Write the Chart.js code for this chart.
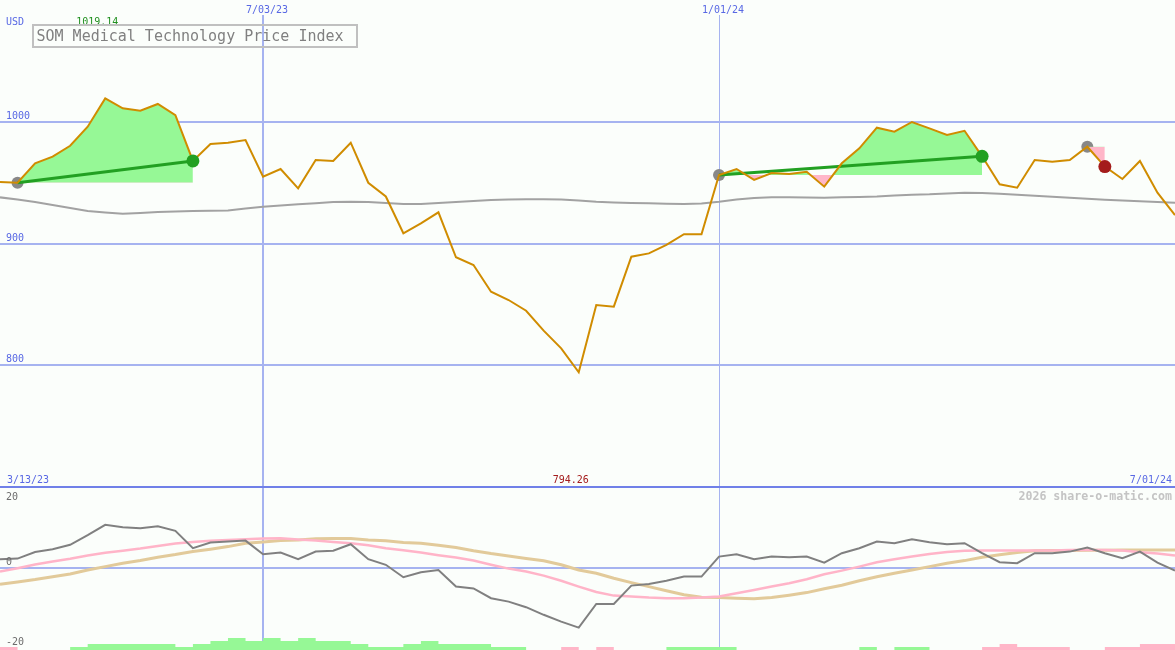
<!DOCTYPE html>
<html>
<head>
<meta charset="utf-8">
<title>SOM Medical Technology Price Index</title>
<script src="https://cdn.jsdelivr.net/npm/chart.js@4.4.1/dist/chart.umd.min.js"></script>
<style>
  html, body { margin: 0; padding: 0; background: #fbfefb; }
  #wrap { position: relative; width: 1175px; height: 650px; overflow: hidden; }
  #priceChart { position: absolute; left: 0; top: 0; }
  #oscChart { position: absolute; left: 0; top: 488px; }
</style>
</head>
<body>
<div id="wrap">
  <canvas id="priceChart" width="1175" height="488"></canvas>
  <canvas id="oscChart" width="1175" height="162"></canvas>
</div>
<script>
// weekly closes, week 0 = 3/20/23 ... week 67 = 7/01/24
const price = [
  950.5, 949.9, 965.9, 971.3, 980.3, 995.9, 1019.14, 1011.0, 1009.1, 1014.6,
  1005.5, 967.8, 981.7, 982.8, 985.0, 954.9, 961.2, 945.3, 968.6, 967.8,
  982.8, 949.9, 938.6, 908.4, 916.6, 925.6, 888.7, 882.3, 860.4, 853.6,
  844.8, 828.4, 813.9, 794.26, 849.5, 848.1, 889.2, 891.9, 898.8, 907.6,
  907.6, 956.3, 961.2, 952.2, 957.9, 957.1, 959.0, 946.7, 965.9, 978.2,
  995.1, 991.8, 999.8, 994.6, 989.1, 992.6, 971.6, 948.6, 945.8, 968.6,
  967.2, 968.6, 979.5, 963.2, 953.0, 967.8, 941.7, 923.4
];

// long moving average (grey)
const priceMA = [
  937.9, 936.1, 934.1, 931.6, 929.2, 926.7, 925.5, 924.5, 925.1, 925.9,
  926.3, 926.7, 926.9, 927.1, 928.7, 930.2, 931.2, 932.2, 933.0, 934.1,
  934.3, 934.1, 933.3, 932.4, 932.4, 933.3, 934.1, 934.9, 935.7, 936.1,
  936.3, 936.3, 936.1, 935.3, 934.3, 933.7, 933.3, 933.0, 932.7, 932.4,
  932.9, 934.3, 936.1, 937.4, 937.9, 937.9, 937.8, 937.6, 937.9, 938.3,
  938.6, 939.4, 940.1, 940.4, 941.1, 941.7, 941.5, 940.9, 940.1, 939.3,
  938.4, 937.6, 936.7, 936.0, 935.3, 934.7, 934.1, 933.5
];

// oscillator panel
const macd = [
  2.1, 2.25, 3.9, 4.6, 5.7, 8.1, 10.7, 10.1, 9.85, 10.35,
  9.2, 4.85, 6.25, 6.5, 6.75, 3.35, 3.75, 2.1, 4.0, 4.2,
  5.85, 2.1, 0.7, -2.4, -1.15, -0.6, -4.75, -5.2, -7.65, -8.5,
  -9.9, -11.8, -13.5, -15.0, -9.1, -9.1, -4.5, -4.1, -3.3, -2.25,
  -2.25, 2.75, 3.35, 2.1, 2.75, 2.6, 2.75, 1.25, 3.6, 4.85,
  6.5, 6.1, 7.1, 6.35, 5.85, 6.1, 3.6, 1.35, 1.1, 3.6,
  3.6, 4.0, 5.0, 3.6, 2.35, 4.0, 1.25, -0.75
];

const fastAvg = [
  -1.0, -0.15, 0.75, 1.5, 2.2, 3.0, 3.7, 4.2, 4.75, 5.4,
  6.0, 6.4, 6.7, 6.9, 7.1, 7.25, 7.35, 7.0, 6.75, 6.4,
  6.1, 5.6, 4.85, 4.35, 3.75, 3.1, 2.5, 1.75, 0.7, -0.25,
  -1.0, -2.0, -3.3, -4.75, -6.1, -7.0, -7.25, -7.5, -7.65, -7.65,
  -7.5, -7.25, -6.4, -5.6, -4.75, -3.9, -2.9, -1.65, -0.75, 0.25,
  1.35, 2.1, 2.75, 3.4, 3.9, 4.2, 4.25, 4.25, 4.25, 4.25,
  4.25, 4.4, 4.4, 4.4, 4.25, 3.85, 3.5, 3.0
];

const slowAvg = [
  -4.15, -3.6, -3.0, -2.3, -1.6, -0.6, 0.25, 1.1, 1.8, 2.6,
  3.25, 4.0, 4.6, 5.25, 6.1, 6.4, 6.75, 6.9, 7.2, 7.25,
  7.25, 6.9, 6.7, 6.3, 6.1, 5.6, 5.0, 4.2, 3.5, 2.9,
  2.3, 1.7, 0.7, -0.6, -1.4, -2.65, -3.75, -4.75, -5.8, -6.8,
  -7.4, -7.5, -7.65, -7.8, -7.5, -6.9, -6.25, -5.3, -4.4, -3.3,
  -2.3, -1.4, -0.6, 0.25, 1.1, 1.75, 2.6, 3.2, 3.75, 4.2,
  4.25, 4.25, 4.35, 4.35, 4.4, 4.4, 4.4, 4.4
];

// histogram strip along the bottom (signed, small units)
const histogram = [
  -1, 0, 0, 0, 1, 2, 2, 2, 2, 2,
  1, 2, 3, 4, 3, 4, 3, 4, 3, 3,
  2, 1, 1, 2, 3, 2, 2, 2, 1, 1,
  0, 0, -1, 0, -1, 0, 0, 0, 1, 1,
  1, 1, 0, 0, 0, 0, 0, 0, 0, 1,
  0, 1, 1, 0, 0, 0, -1, -2, -1, -1,
  -1, 0, 0, -1, -1, -2, -2, -2
];

const gridWeeks = [15, 41];
const gridDates = ['7/03/23', '1/01/24'];
const firstDate = '3/13/23';
const lastDate = '7/01/24';
const priceTicks = [700, 800, 900, 1000];
const oscTicks = [20, 0, -20];

// trades: entry week, exit week, result
const entryWeeks = [1, 41, 62];
const exitWeeks = [11, 56, 63];
const tradeWon = [true, true, false];

const BG = '#fbfefb';
const GRID = '#a6b3f0';
const AXIS = '#7080e8';
const LABEL = '#5868e4';
const GREEN = '#22a022';
const RED = '#a41c1c';
const FILL_UP = '#96f896';
const FILL_DOWN = '#ffb6c8';
const MONO = '"DejaVu Sans Mono", "Liberation Mono", monospace';

const toPoints = (arr) => arr.map((y, i) => ({ x: i, y }));

const trades = entryWeeks.map((start, i) => ({
  start,
  end: exitWeeks[i],
  won: tradeWon[i]
}));

/**
 * Shared week axis, only the two date grid lines.
 * @returns {Object}
 */
function weekAxis() {
  return {
    type: 'linear',
    min: 0,
    max: price.length - 1,
    afterBuildTicks: (scale) => { scale.ticks = gridWeeks.map(v => ({ value: v })); },
    afterFit: (scale) => { scale.height = 0; },
    grid: {
      color: GRID,
      lineWidth: (ctx) => (ctx.tick && ctx.tick.value === gridWeeks[0] ? 2 : 1),
      drawTicks: false
    },
    border: { display: false },
    ticks: { display: false }
  };
}

const background = {
  id: 'background',
  beforeDraw(chart) {
    const { ctx, width, height } = chart;
    ctx.save();
    ctx.fillStyle = BG;
    ctx.fillRect(0, 0, width, height);
    ctx.restore();
  }
};

const priceText = {
  id: 'priceText',
  afterDraw(chart) {
    const { ctx, scales: { x } } = chart;
    const h = chart.height;
    ctx.save();
    ctx.font = '10px ' + MONO;
    ctx.textBaseline = 'alphabetic';

    // dates above the vertical grid lines
    ctx.textAlign = 'center';
    gridWeeks.forEach((w, i) => {
      const px = x.getPixelForValue(w) + 4;
      const tw = ctx.measureText(gridDates[i]).width;
      ctx.fillStyle = BG;
      ctx.fillRect(px - tw / 2 - 2, 0, tw + 4, 15);
      ctx.fillStyle = LABEL;
      ctx.fillText(gridDates[i], px, 13);
    });

    ctx.textAlign = 'left';
    ctx.fillStyle = LABEL;
    ctx.fillText('USD', 6, 24.5);
    ctx.fillText(firstDate, 7, h - 5);
    ctx.textAlign = 'right';
    ctx.fillText(lastDate, chart.width - 3, h - 5);

    // high / low of the period
    const hi = Math.max(...price);
    const lo = Math.min(...price);
    ctx.textAlign = 'center';
    ctx.fillStyle = '#20901f';
    ctx.fillText(hi.toFixed(2), x.getPixelForValue(price.indexOf(hi)) - 8, 24.5);
    ctx.fillStyle = RED;
    ctx.fillText(lo.toFixed(2), x.getPixelForValue(price.indexOf(lo)) - 8, h - 5);

    // boxed title
    ctx.strokeStyle = '#c0c0c0';
    ctx.lineWidth = 2;
    ctx.strokeRect(33, 25, 324, 22);
    ctx.font = '15px ' + MONO;
    ctx.textAlign = 'left';
    ctx.fillStyle = '#808080';
    ctx.fillText('SOM Medical Technology Price Index', 36.5, 41);
    ctx.restore();
  }
};

const oscText = {
  id: 'oscText',
  afterDraw(chart) {
    const { ctx, scales: { y } } = chart;
    ctx.save();
    ctx.font = '10px ' + MONO;
    ctx.textBaseline = 'alphabetic';
    ctx.textAlign = 'left';
    ctx.fillStyle = '#6c6c6c';
    oscTicks.forEach(v => {
      const py = y.getPixelForValue(v);
      ctx.fillText(String(v), 6, v > 0 ? py + 12 : py - 2.5);
    });
    ctx.font = 'bold 11.6px ' + MONO;
    ctx.textAlign = 'right';
    ctx.fillStyle = '#c4c4c4';
    ctx.fillText('2026 share-o-matic.com', chart.width - 3, 12);
    ctx.restore();
  }
};

/**
 * Price panel with trades.
 * @param {HTMLCanvasElement} canvas
 * @returns {Chart}
 */
function renderPriceChart(canvas) {
  const datasets = [
    {
      // exit markers
      data: trades.map(t => ({ x: t.end, y: price[t.end] })),
      showLine: false,
      pointRadius: 6.5,
      pointBorderWidth: 0,
      pointBackgroundColor: trades.map(t => (t.won ? GREEN : RED)),
      order: 0
    },
    {
      data: toPoints(price),
      borderColor: '#d08c00',
      borderWidth: 2,
      pointRadius: 0,
      order: 1
    },
    ...trades.filter(t => t.won).map(t => ({
      data: [
        { x: t.start, y: price[t.start] },
        { x: t.end, y: price[t.end] }
      ],
      borderColor: GREEN,
      borderWidth: 3,
      pointRadius: 0,
      order: 2
    })),
    ...trades.map(t => ({
      data: toPoints(price).slice(t.start, t.end + 1),
      borderWidth: 0,
      pointRadius: 0,
      fill: { target: { value: price[t.start] }, above: FILL_UP, below: FILL_DOWN },
      order: 3
    })),
    {
      // entry markers
      data: trades.map(t => ({ x: t.start, y: price[t.start] })),
      showLine: false,
      pointRadius: 6,
      pointBorderWidth: 0,
      pointBackgroundColor: '#888888',
      order: 4
    },
    {
      data: toPoints(priceMA),
      borderColor: '#a2a2a2',
      borderWidth: 2,
      pointRadius: 0,
      order: 5
    }
  ];

  return new Chart(canvas, {
    type: 'line',
    data: { datasets },
    options: {
      responsive: false,
      animation: false,
      events: [],
      layout: { padding: 0, autoPadding: false },
      plugins: { legend: { display: false }, tooltip: { enabled: false } },
      scales: {
        x: weekAxis(),
        y: {
          min: 699.2,
          max: 1100,
          afterBuildTicks: (scale) => { scale.ticks = priceTicks.map(v => ({ value: v })); },
          afterFit: (scale) => {
            scale.width = 0;
            scale.paddingTop = 0;
            scale.paddingBottom = 0;
          },
          grid: {
            color: (ctx) => (ctx.tick && ctx.tick.value === priceTicks[0] ? AXIS : GRID),
            lineWidth: 2,
            drawTicks: false
          },
          border: { display: false },
          ticks: {
            mirror: true,
            padding: 6,
            labelOffset: -5.5,
            color: LABEL,
            font: { family: MONO, size: 10 },
            callback: (v) => (v === priceTicks[0] ? '' : String(v))
          }
        }
      }
    },
    plugins: [background, priceText]
  });
}

/**
 * Oscillator panel.
 * @param {HTMLCanvasElement} canvas
 * @returns {Chart}
 */
function renderOscChart(canvas) {
  const histUp = histogram.map(v => Math.max(v, 0));
  const histDown = histogram.map(v => Math.max(-v, 0));
  const line = (arr, color, width, order) => ({
    data: toPoints(arr),
    borderColor: color,
    borderWidth: width,
    pointRadius: 0,
    order
  });

  return new Chart(canvas, {
    type: 'line',
    data: {
      datasets: [
        line(macd, '#808080', 2, 0),
        line(fastAvg, '#ffb4c8', 2.5, 1),
        line(slowAvg, '#e2ca9a', 3, 2),
        {
          data: toPoints(histUp),
          yAxisID: 'yh',
          stepped: true,
          borderWidth: 0,
          pointRadius: 0,
          fill: 'origin',
          backgroundColor: FILL_UP,
          order: 3
        },
        {
          data: toPoints(histDown),
          yAxisID: 'yh',
          stepped: true,
          borderWidth: 0,
          pointRadius: 0,
          fill: 'origin',
          backgroundColor: FILL_DOWN,
          order: 4
        }
      ]
    },
    options: {
      responsive: false,
      animation: false,
      events: [],
      layout: { padding: 0, autoPadding: false },
      plugins: { legend: { display: false }, tooltip: { enabled: false } },
      scales: {
        x: weekAxis(),
        y: {
          min: -20.6,
          max: 19.9,
          afterBuildTicks: (scale) => { scale.ticks = [{ value: 0 }]; },
          afterFit: (scale) => { scale.width = 0; },
          grid: { color: GRID, lineWidth: 2, drawTicks: false },
          border: { display: false },
          ticks: { display: false }
        },
        yh: { display: false, min: 0, max: 54 }
      }
    },
    plugins: [background, oscText]
  });
}

function init() {
  renderPriceChart(document.getElementById('priceChart'));
  renderOscChart(document.getElementById('oscChart'));
}

if (document.readyState === 'loading') {
  document.addEventListener('DOMContentLoaded', init);
} else {
  init();
}
</script>
</body>
</html>
